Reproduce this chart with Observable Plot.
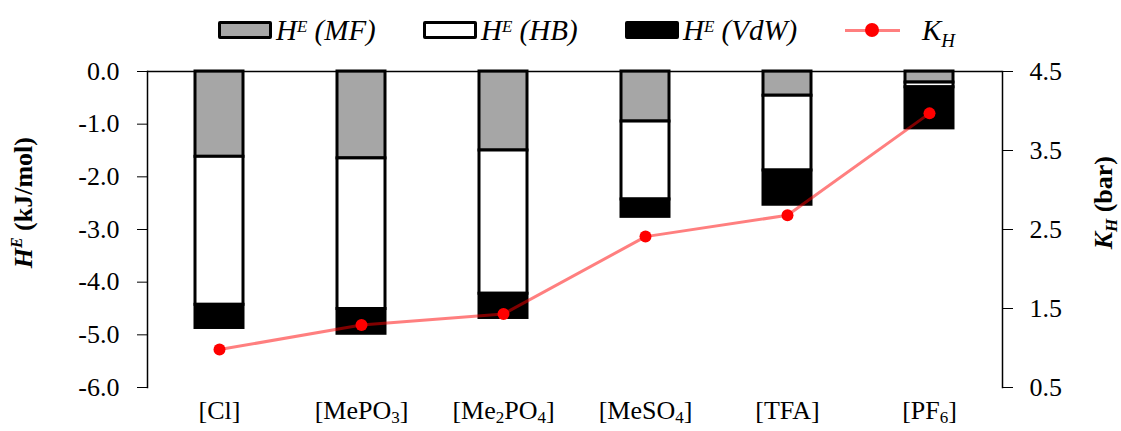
<!DOCTYPE html>
<html>
<head>
<meta charset="utf-8">
<script src="https://cdn.jsdelivr.net/npm/d3@7"></script>
<script src="https://cdn.jsdelivr.net/npm/@observablehq/plot@0.6"></script>
<style>
  html, body { margin: 0; padding: 0; background: #fff; }
  #wrap { position: relative; width: 1121px; height: 431px; font-family: "Liberation Serif", "Times New Roman", serif; }
  #legend { position: relative; width: 1121px; height: 52px; }
  .item { position: absolute; top: 18px; display: flex; align-items: center; font-style: italic; font-size: 29px; color: #000; line-height: 24px; }
  .sw { width: 48px; height: 12px; border: 3px solid #000; border-radius: 2px; margin-right: 4px; }
  .item sup { font-size: 17px; vertical-align: 8px; line-height: 0; }
  .item sub { font-size: 19px; vertical-align: -7px; line-height: 0; }
  .lm { position: relative; width: 55px; height: 14px; margin-right: 22px; }
  .lm .ln { position: absolute; left: 0; right: 0; top: 5.5px; height: 3px; background: rgba(255,0,0,0.5); }
  .lm .dt { position: absolute; left: 20px; top: 0; width: 14px; height: 14px; border-radius: 50%; background: #ff0000; }
</style>
</head>
<body>
<div id="wrap">
  <div id="legend"></div>
  <div id="chart"></div>
</div>
<script>
// ---- data ----
const categories = ["[Cl]", "[MePO3]", "[Me2PO4]", "[MeSO4]", "[TFA]", "[PF6]"];
const components = ["MF", "HB", "VdW"];
const hMF  = [-1.62, -1.65, -1.50, -0.95, -0.46, -0.21];
const hHB  = [-2.81, -2.86, -2.72, -1.48, -1.42, -0.09];
const hVdW = [-0.44, -0.47, -0.46, -0.33, -0.65, -0.78];
const kH   = [0.98, 1.29, 1.43, 2.41, 2.68, 3.97];
const leftTicks = [0, -1, -2, -3, -4, -5, -6];
const rightTicks = [0.5, 1.5, 2.5, 3.5, 4.5];
const compColors = ["#a6a6a6", "#ffffff", "#000000"];

// map K_H (0.5..4.5) onto the H^E scale (-6..0)
const toLeft = k => -6 + (k - 0.5) * 1.5;
const fromLeft = v => (v + 6) / 1.5 + 0.5;

const bars = [];
categories.forEach((c, i) => {
  bars.push({cat: c, comp: "MF", value: hMF[i]});
  bars.push({cat: c, comp: "HB", value: hHB[i]});
  bars.push({cat: c, comp: "VdW", value: hVdW[i]});
});
const khData = categories.map((c, i) => ({cat: c, k: kH[i]}));

// ---- legend ----
const legend = document.getElementById("legend");
const legendItems = [
  {left: 218, html: '<div class="sw" style="background:#a6a6a6"></div><span>H<sup>E</sup> (MF)</span>'},
  {left: 423, html: '<div class="sw" style="background:#ffffff"></div><span>H<sup>E</sup> (HB)</span>'},
  {left: 625, html: '<div class="sw" style="background:#000000"></div><span>H<sup>E</sup> (VdW)</span>'},
  {left: 845, html: '<div class="lm"><div class="ln"></div><div class="dt"></div></div><span>K<sub>H</sub></span>'}
];
legendItems.forEach(it => {
  const d = document.createElement("div");
  d.className = "item";
  d.style.left = it.left + "px";
  d.innerHTML = it.html;
  legend.appendChild(d);
});

// ---- chart ----
const plot = Plot.plot({
  width: 1121,
  height: 379,
  marginTop: 19,
  marginBottom: 44,
  marginLeft: 147,
  marginRight: 119,
  style: {fontFamily: "'Liberation Serif', 'Times New Roman', serif", fontSize: "26px", color: "#000", background: "#fff"},
  x: {domain: categories, paddingInner: 0.66, paddingOuter: 0.33, label: null},
  y: {domain: [-6, 0], label: null},
  color: {domain: components, range: compColors},
  marks: [
    Plot.barY(bars, {x: "cat", y: "value", fill: "comp", stroke: "#000", strokeWidth: 3, order: null}),
    Plot.ruleY([0], {stroke: "#000", strokeWidth: 1.5}),
    Plot.frame({anchor: "left", stroke: "#000", strokeWidth: 1.5}),
    Plot.frame({anchor: "right", stroke: "#000", strokeWidth: 1.5}),
    Plot.line(khData, {x: "cat", y: d => toLeft(d.k), stroke: "#ff0000", strokeOpacity: 0.5, strokeWidth: 3}),
    Plot.dot(khData, {x: "cat", y: d => toLeft(d.k), r: 6, fill: "#ff0000"}),
    Plot.axisY({anchor: "left", ticks: leftTicks, tickFormat: d => d.toFixed(1), tickSize: 10, tickPadding: 18, label: null, fontSize: 26}),
    Plot.axisY({anchor: "right", ticks: rightTicks.map(toLeft), tickFormat: d => fromLeft(d).toFixed(1), tickSize: 10, tickPadding: 17, label: null, fontSize: 26}),
    Plot.axisX({tickSize: 0, tickPadding: 13, label: null, fontSize: 26})
  ]
});
document.getElementById("chart").appendChild(plot);

// subscripts on category tick labels
const svg = d3.select(plot);
svg.selectAll("g[aria-label='x-axis tick label'] text").each(function() {
  const t = d3.select(this);
  const s = t.text();
  t.text(null);
  let lowered = false;
  s.split(/(\d+)/).forEach(part => {
    if (!part) return;
    if (/^\d+$/.test(part)) {
      t.append("tspan").attr("font-size", "17px").attr("dy", "0.25em").text(part);
      lowered = true;
    } else {
      const sp = t.append("tspan").text(part);
      if (lowered) { sp.attr("dy", "-0.17em"); lowered = false; }
    }
  });
});

// axis titles
const ys = plot.scale("y");
const titleY = ys.apply(-2.5);
const lt = svg.append("text")
  .attr("transform", `translate(32,${titleY}) rotate(-90)`)
  .attr("text-anchor", "middle")
  .attr("font-weight", "bold")
  .attr("font-size", 26);
lt.append("tspan").attr("font-style", "italic").text("H");
lt.append("tspan").attr("font-style", "italic").attr("font-size", 16).attr("dy", "-0.6em").text("E");
lt.append("tspan").attr("dy", "0.38em").text(" (kJ/mol)");

const rt = svg.append("text")
  .attr("transform", `translate(1112,${titleY}) rotate(-90)`)
  .attr("text-anchor", "middle")
  .attr("font-weight", "bold")
  .attr("font-size", 26);
rt.append("tspan").attr("font-style", "italic").text("K");
rt.append("tspan").attr("font-style", "italic").attr("font-size", 17).attr("dy", "0.3em").text("H");
rt.append("tspan").attr("dy", "-0.2em").text(" (bar)");
</script>
</body>
</html>
